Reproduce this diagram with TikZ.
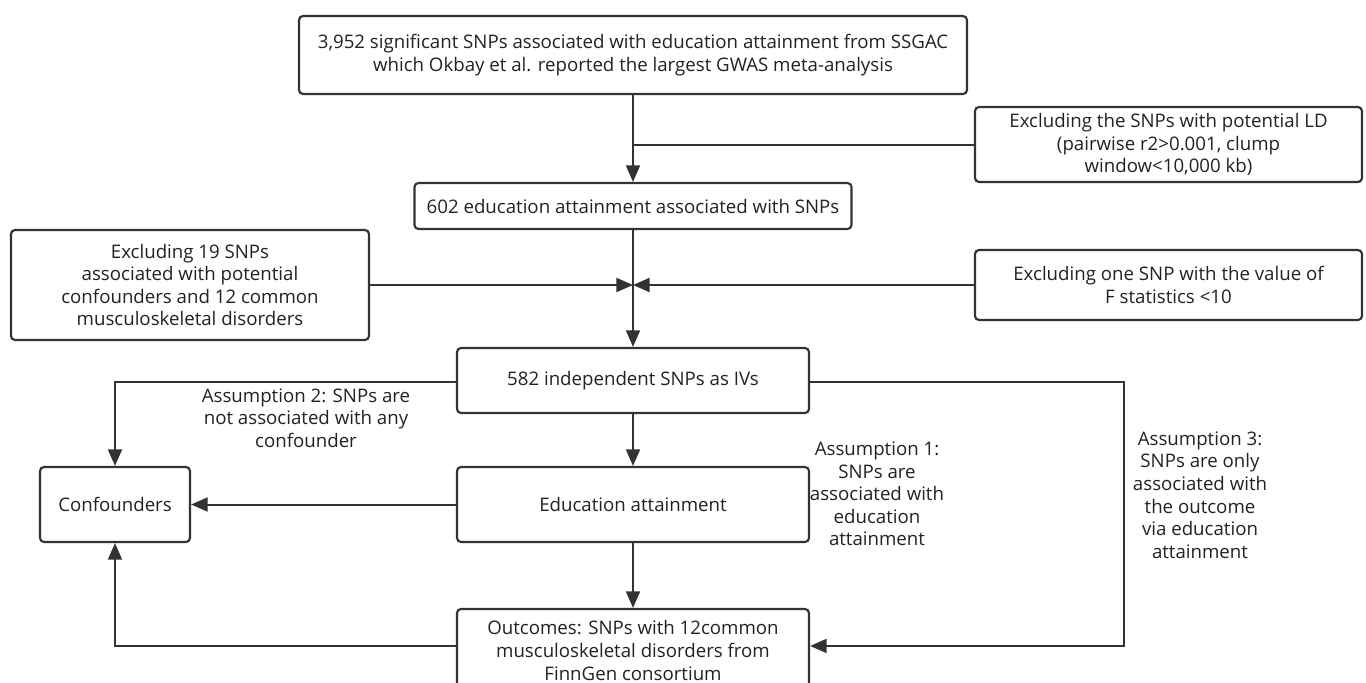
\documentclass[tikz,border=0pt]{standalone}
\usepackage{fontspec}
\setmainfont{Open Sans}
\usetikzlibrary{arrows.meta}
\definecolor{ln}{HTML}{333333}
\definecolor{tx}{HTML}{222222}
\begin{document}
\begin{tikzpicture}[x=0.75pt,y=-0.75pt,
  box/.style={draw=ln,line width=1.6pt,rounded corners=3pt,align=center,text=tx,
    font=\fontsize{14}{16.9}\selectfont,inner sep=0pt},
  lbl/.style={align=center,text=tx,font=\fontsize{14}{16.9}\selectfont,inner sep=0pt},
  conn/.style={draw=ln,line width=1.5pt},
  arr/.style={conn,-{Triangle[length=12.5pt,width=10.5pt]}}]
\clip (0,0) rectangle (1366,682);
\fill[white] (0,0) rectangle (1366,682);

\node[box,minimum width=501pt,minimum height=58.5pt] (top) at (633,55)
  {3,952 significant SNPs associated with education attainment from SSGAC\\which Okbay et al. reported the largest GWAS meta-analysis};
\node[box,minimum width=290.25pt,minimum height=56.25pt] (ld) at (1168.5,144.5)
  {Excluding the SNPs with potential LD\\(pairwise r2>0.001, clump\\window<10,000 kb)};
\node[box,minimum width=327.75pt,minimum height=34.5pt] (n602) at (633,206)
  {602 education attainment associated with SNPs};
\node[box,minimum width=268.5pt,minimum height=82.5pt] (ex19) at (190,285)
  {Excluding 19 SNPs\\associated with potential\\confounders and 12 common\\musculoskeletal disorders};
\node[box,minimum width=290.25pt,minimum height=52.5pt] (exF) at (1168.5,285)
  {Excluding one SNP with the value of\\F statistics <10};
\node[box,minimum width=264pt,minimum height=48.75pt] (n582) at (633,380.5)
  {582 independent SNPs as IVs};
\node[box,minimum width=264pt,minimum height=56.25pt] (edu) at (633,504.5)
  {Education attainment};
\node[box,minimum width=264pt,minimum height=62.25pt] (out) at (633,650.5)
  {Outcomes: SNPs with 12common\\musculoskeletal disorders from\\FinnGen consortium};
\node[box,minimum width=112.5pt,minimum height=56.25pt] (conf) at (115,504.5)
  {Confounders};

\node[lbl] (a2) at (306,418) {Assumption 2: SNPs are\\not associated with any\\confounder};
\node[lbl] (a1) at (877,494) {Assumption 1:\\SNPs are\\associated with\\education\\attainment};
\node[lbl] (a3) at (1200,495) {Assumption 3:\\SNPs are only\\associated with\\the outcome\\via education\\attainment};

\coordinate (J) at (633,285);
\coordinate (R) at (1124,382);

\draw[arr] (top.south) -- (n602.north);
\draw[conn] (ld.west) -- (ld.west -| top.south);
\draw[arr] (ex19.east) -- (J);
\draw[arr] (exF.west) -- (J);
\draw[arr] (n602.south) -- (n582.north);
\draw[arr] ([yshift=-1pt]n582.west) -| (conf.north);
\draw[arr] (n582.south) -- (edu.north);
\draw[arr] (edu.west) -- (conf.east);
\draw[arr] (edu.south) -- (out.north);
\draw[arr] ([yshift=3.4pt]out.west) -| (conf.south);
\draw[arr] ([yshift=-1pt]n582.east) -- ([yshift=-1pt]n582.east -| R) |- ([yshift=3.4pt]out.east);
\end{tikzpicture}
\end{document}
